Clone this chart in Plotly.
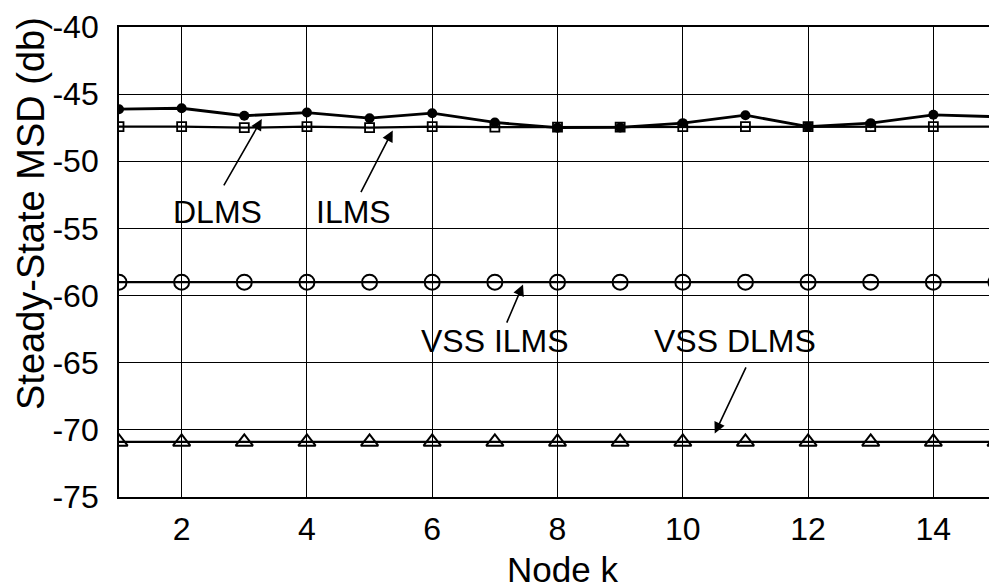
import plotly.graph_objects as go

nodes = list(range(1, 16))
dlms = [-46.12, -46.05, -46.61, -46.37, -46.79, -46.42, -47.11, -47.50, -47.48, -47.16, -46.57, -47.42, -47.16, -46.54, -46.68]
ilms = [-47.42, -47.42, -47.50, -47.42, -47.50, -47.42, -47.45, -47.45, -47.45, -47.42, -47.42, -47.42, -47.42, -47.42, -47.42]
vss_ilms = [-59.0] * 15
vss_dlms = [-70.9] * 15

x_ticks = [2, 4, 6, 8, 10, 12, 14]
y_ticks = [-75, -70, -65, -60, -55, -50, -45, -40]
y_tick_text = ["-75", "-70", "-65", "-60", "-55", "-50", "-45", "-40"]

FONT = "Liberation Sans, Arial, sans-serif"

fig = go.Figure()
fig.add_trace(go.Scatter(x=nodes, y=dlms, mode="lines+markers", name="DLMS",
                         line=dict(color="black", width=2.8),
                         marker=dict(symbol="circle", size=10, color="black")))
fig.add_trace(go.Scatter(x=nodes, y=ilms, mode="lines+markers", name="ILMS",
                         line=dict(color="black", width=2.2),
                         marker=dict(symbol="square-open", size=9, color="black", line=dict(width=1.8))))
fig.add_trace(go.Scatter(x=nodes, y=vss_ilms, mode="lines+markers", name="VSS ILMS",
                         line=dict(color="black", width=2.2),
                         marker=dict(symbol="circle-open", size=15, color="black", line=dict(width=2))))
fig.add_trace(go.Scatter(x=nodes, y=vss_dlms, mode="lines+markers", name="VSS DLMS",
                         line=dict(color="black", width=2.2),
                         marker=dict(symbol="triangle-up-open", size=15, color="black", line=dict(width=2))))

labels = [
    ("DLMS", 2.58, -53.8, 3.28, -46.86, 2.66, -51.9),
    ("ILMS", 4.74, -53.8, 5.37, -47.7, 4.85, -52.4),
    ("VSS ILMS", 7.0, -63.4, 7.45, -59.17, 7.18, -62.13),
    ("VSS DLMS", 10.83, -63.4, 10.51, -70.27, 11.02, -65.24),
]
for text, tx, ty, hx, hy, axx, ayy in labels:
    fig.add_annotation(x=tx, y=ty, text=text, showarrow=False,
                       font=dict(family=FONT, size=32, color="black"))
    fig.add_annotation(x=hx, y=hy, ax=axx, ay=ayy, xref="x", yref="y",
                       axref="x", ayref="y", text="", showarrow=True,
                       arrowhead=2, arrowsize=1.4, arrowwidth=1.6, arrowcolor="black")

# plot area in page pixels: x 119..996, y 27..497 (page has an 8px body margin)
PL, PW, PB, PH = 119, 877, 497, 470
fig.add_annotation(x=(31 - PL) / PW, xref="paper", y=(PB - 214) / PH, yref="paper",
                   xanchor="center", yanchor="middle", text="Steady-State MSD (db)",
                   textangle=-90, showarrow=False, font=dict(family=FONT, size=38, color="black"))
fig.add_annotation(x=(562 - PL) / PW, xref="paper", y=(PB - 569) / PH, yref="paper",
                   xanchor="center", yanchor="middle", text="Node k",
                   showarrow=False, font=dict(family=FONT, size=35, color="black"))

fig.update_layout(
    width=989, height=580,
    margin=dict(l=111, r=1, t=19, b=91, autoexpand=False),
    paper_bgcolor="white", plot_bgcolor="white",
    showlegend=False,
    font=dict(family=FONT, size=32, color="black"),
)

fig.update_xaxes(range=[1, 15], tickvals=x_ticks, showgrid=True, gridcolor="black", gridwidth=1.4,
                 showline=True, linecolor="black", linewidth=1.8, mirror=True, zeroline=False,
                 ticks="", ticklabelstandoff=3, automargin=False, ticklabeloverflow="allow")
fig.update_yaxes(range=[-75, -40], tickvals=y_ticks, ticktext=y_tick_text, showgrid=True,
                 gridcolor="black", gridwidth=1.4,
                 showline=True, linecolor="black", linewidth=1.8, mirror=True, zeroline=False,
                 ticks="", ticklabelstandoff=12, automargin=False, ticklabeloverflow="allow")

fig.write_html("out.html")
